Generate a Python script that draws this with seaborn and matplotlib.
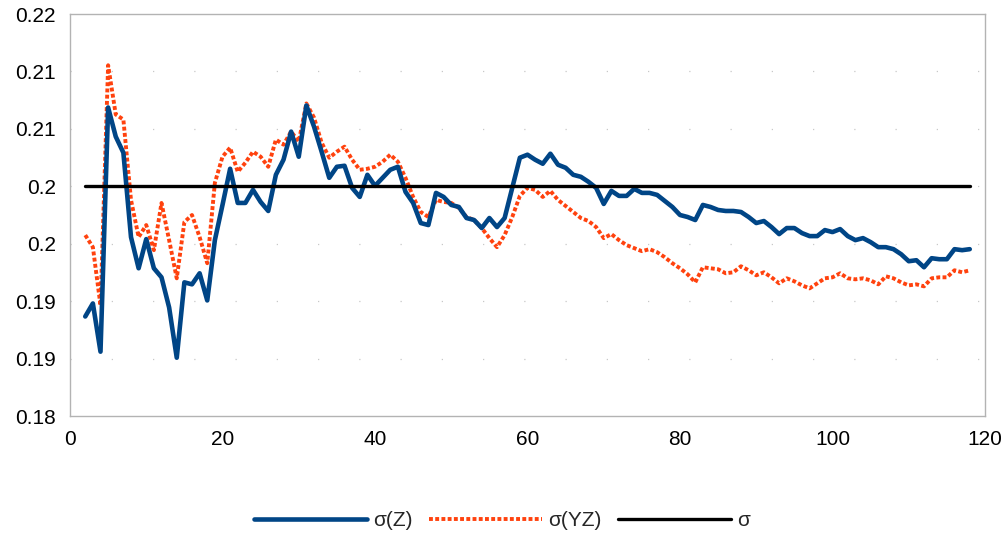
import numpy as np
import pandas as pd
import matplotlib
matplotlib.use("Agg")
import matplotlib.pyplot as plt
import seaborn as sns

# ---- data ----
x_vals = list(range(2, 119))
sigma_z = [
    0.1899, 0.1912, 0.1864, 0.2107, 0.2078, 0.2062, 0.1978, 0.1947, 0.1976, 0.1947,
    0.1938, 0.1908, 0.1858, 0.1933, 0.1931, 0.1942, 0.1915, 0.1975, 0.2010, 0.2046,
    0.2012, 0.2012, 0.2025, 0.2013, 0.2004, 0.2040, 0.2055, 0.2083, 0.2058, 0.2109,
    0.2088, 0.2063, 0.2037, 0.2048, 0.2049, 0.2027, 0.2018, 0.2040, 0.2029, 0.2037,
    0.2045, 0.2048, 0.2023, 0.2012, 0.1992, 0.1990, 0.2022, 0.2018, 0.2010, 0.2008,
    0.1997, 0.1995, 0.1987, 0.1997, 0.1988, 0.1997, 0.2027, 0.2057, 0.2060, 0.2055,
    0.2051, 0.2061, 0.2050, 0.2047, 0.2040, 0.2038, 0.2033, 0.2027, 0.2011, 0.2024,
    0.2019, 0.2019, 0.2026, 0.2022, 0.2022, 0.2020, 0.2014, 0.2008, 0.2000, 0.1998,
    0.1995, 0.2010, 0.2008, 0.2005, 0.2004, 0.2004, 0.2003, 0.1998, 0.1992, 0.1994,
    0.1988, 0.1981, 0.1987, 0.1987, 0.1982, 0.1979, 0.1979, 0.1985, 0.1983, 0.1986,
    0.1979, 0.1975, 0.1977, 0.1973, 0.1968, 0.1968, 0.1966, 0.1961, 0.1954, 0.1955,
    0.1948, 0.1957, 0.1956, 0.1956, 0.1966, 0.1965, 0.1966,
]
sigma_yz = [
    0.1980, 0.1968, 0.1910, 0.2149, 0.2100, 0.2095, 0.2015, 0.1978, 0.1990, 0.1965,
    0.2012, 0.1975, 0.1937, 0.1993, 0.2000, 0.1978, 0.1952, 0.2032, 0.2058, 0.2067,
    0.2043, 0.2052, 0.2063, 0.2058, 0.2048, 0.2075, 0.2070, 0.2083, 0.2073, 0.2111,
    0.2097, 0.2072, 0.2057, 0.2063, 0.2068, 0.2055, 0.2045, 0.2046, 0.2048, 0.2053,
    0.2060, 0.2053, 0.2037, 0.2018, 0.2003, 0.1998, 0.2015, 0.2013, 0.2012, 0.2007,
    0.1998, 0.1995, 0.1987, 0.1977, 0.1968, 0.1980, 0.1998, 0.2019, 0.2027, 0.2025,
    0.2018, 0.2024, 0.2015, 0.2009, 0.2003, 0.1997, 0.1994, 0.1988, 0.1977, 0.1981,
    0.1975, 0.1970, 0.1967, 0.1964, 0.1966, 0.1963, 0.1958, 0.1952, 0.1947, 0.1941,
    0.1933, 0.1948, 0.1947, 0.1946, 0.1942, 0.1943, 0.1949, 0.1945, 0.1940, 0.1943,
    0.1938, 0.1932, 0.1937, 0.1934, 0.1930, 0.1927, 0.1932, 0.1937, 0.1938, 0.1942,
    0.1937, 0.1936, 0.1937, 0.1935, 0.1931, 0.1939, 0.1937, 0.1933, 0.1930, 0.1931,
    0.1929, 0.1937, 0.1938, 0.1938, 0.1945, 0.1943, 0.1945,
]
sigma_const = 0.2029
series_names = ["σ(Z)", "σ(YZ)", "σ"]
x_ticks = [0, 20, 40, 60, 80, 100, 120]
y_ticks = list(np.linspace(0.18, 0.22, 8))
y_tick_labels = ["0.18", "0.19", "0.19", "0.2", "0.2", "0.21", "0.21", "0.22"]

df = pd.DataFrame({
    "x": x_vals * 3,
    "y": sigma_z + sigma_yz + [sigma_const] * len(x_vals),
    "series": [series_names[0]] * len(x_vals) + [series_names[1]] * len(x_vals)
              + [series_names[2]] * len(x_vals),
})

sns.set_theme(style="white")
plt.rcParams["font.family"] = ["Liberation Sans", "DejaVu Sans"]

fig = plt.figure(figsize=(10.06, 5.38), dpi=100)
ax = fig.add_axes([70 / 1006, 1 - 416 / 538, 915 / 1006, 402 / 538])

colors = {"σ(Z)": "#004586", "σ(YZ)": "#ff420e", "σ": "#000000"}
sns.lineplot(data=df, x="x", y="y", hue="series", palette=colors,
             hue_order=series_names, ax=ax, legend=False)
lines = ax.get_lines()
lines[0].set_linewidth(3.3)
lines[0].set_solid_joinstyle("round")
lines[1].set_linewidth(2.8)
lines[1].set_linestyle((0, (1.0, 0.6)))
lines[2].set_linewidth(2.4)
lines[0].set_zorder(3)
lines[1].set_zorder(2)
lines[2].set_zorder(4)

ax.set_xlim(0, 120)
ax.set_ylim(0.18, 0.22)
ax.set_xticks(x_ticks)
ax.set_xticklabels([str(t) for t in x_ticks])
ax.set_yticks(y_ticks)
ax.set_yticklabels(y_tick_labels)
ax.set_xlabel("")
ax.set_ylabel("")

for sp in ax.spines.values():
    sp.set_color("#b3b3b3")
    sp.set_linewidth(1.0)
    sp.set_visible(True)

ax.tick_params(axis="both", which="major", direction="out", length=5,
               width=1.0, color="#b3b3b3", labelsize=15, labelcolor="#000000",
               pad=5)
ax.tick_params(axis="x", length=4, pad=6)
for t in y_ticks[1:-1]:
    ax.axhline(t, color="#c8c8c8", linewidth=0.9, linestyle=(0, (1, 32)), zorder=1)

handles = [
    plt.Line2D([], [], color=colors["σ(Z)"], linewidth=3.3),
    plt.Line2D([], [], color=colors["σ(YZ)"], linewidth=2.8, linestyle=(0, (1.0, 0.6))),
    plt.Line2D([], [], color=colors["σ"], linewidth=2.4),
]
fig.legend(handles, series_names, loc="center", bbox_to_anchor=(0.499, 1 - 521 / 538),
           ncol=3, frameon=False, fontsize=15, handlelength=5.4,
           handletextpad=0.3, columnspacing=0.8)

fig.savefig("out.png", dpi=100)
